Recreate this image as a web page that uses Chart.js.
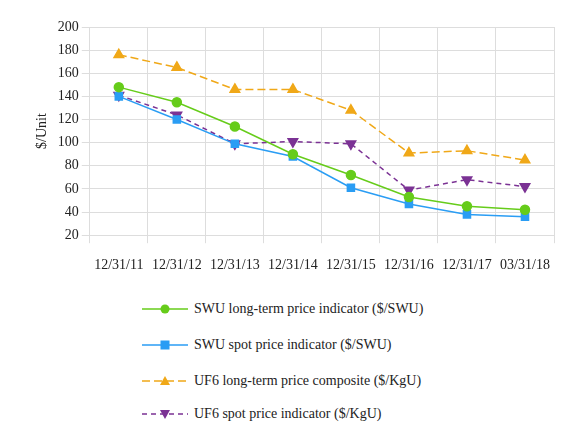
<!DOCTYPE html>
<html><head><meta charset="utf-8">
<script src="https://cdn.jsdelivr.net/npm/chart.js@4"></script>
<style>
body{margin:0;background:#fff;font-family:'Liberation Serif','DejaVu Serif',serif;}
#wrap{position:relative;width:586px;height:288px;}
.leg{position:absolute;left:142px;font-size:14px;color:#222;display:flex;align-items:center;}
.leg svg{margin-right:6px;}
</style></head><body>
<div id="wrap"><canvas id="c" width="586" height="288"></canvas></div>
<div class="leg" style="top:301px"><svg width="46" height="16"><line x1="0" y1="8" x2="46" y2="8" stroke="#66cc1a" stroke-width="1.5"/><circle cx="23" cy="8" r="4.5" fill="#66cc1a"/></svg>SWU long-term price indicator ($/SWU)</div>
<div class="leg" style="top:337px"><svg width="46" height="16"><line x1="0" y1="8" x2="46" y2="8" stroke="#2a9df4" stroke-width="1.5"/><rect x="18.5" y="3.5" width="9" height="9" fill="#2a9df4"/></svg>SWU spot price indicator ($/SWU)</div>
<div class="leg" style="top:373px"><svg width="46" height="16"><line x1="0" y1="8" x2="46" y2="8" stroke="#f0a818" stroke-width="1.5" stroke-dasharray="8,4"/><polygon points="23,3 28,12 18,12" fill="#f0a818"/></svg>UF6 long-term price composite ($/KgU)</div>
<div class="leg" style="top:406px"><svg width="46" height="16"><line x1="0" y1="8" x2="46" y2="8" stroke="#7b3294" stroke-width="1.5" stroke-dasharray="5,4"/><polygon points="18,4 28,4 23,13" fill="#7b3294"/></svg>UF6 spot price indicator ($/KgU)</div>
<script>
const categories=["12/31/11","12/31/12","12/31/13","12/31/14","12/31/15","12/31/16","12/31/17","03/31/18"];
const swuLongTerm=[148,135,114,90,72,53,45,42];
const swuSpot=[140,120,99,88,61,47,38,36];
const uf6LongTerm=[176,165,146,146,128,91,93,85];
const uf6Spot=[141,124,99,101,99,59,68,62];
const yTicks=[20,40,60,80,100,120,140,160,180,200];
Chart.defaults.font.family="'Liberation Serif','DejaVu Serif',serif";
Chart.defaults.color='#222';
new Chart(document.getElementById('c'),{type:'line',
data:{labels:categories,datasets:[
{data:swuLongTerm,borderColor:'#66cc1a',backgroundColor:'#66cc1a',pointStyle:'circle',pointRadius:4.5,borderWidth:1.5},
{data:swuSpot,borderColor:'#2a9df4',backgroundColor:'#2a9df4',pointStyle:'rect',pointRadius:5,borderWidth:1.5},
{data:uf6LongTerm,borderColor:'#f0a818',backgroundColor:'#f0a818',pointStyle:'triangle',pointRadius:5.5,borderWidth:1.5,borderDash:[8,4]},
{data:uf6Spot,borderColor:'#7b3294',backgroundColor:'#7b3294',pointStyle:'triangle',rotation:180,pointRadius:5.5,borderWidth:1.5,borderDash:[5,4]}
]},
options:{responsive:false,animation:false,layout:{padding:{left:30,right:32,top:27,bottom:0}},
plugins:{legend:{display:false},tooltip:{enabled:false}},
scales:{
x:{offset:true,grid:{color:'#ddd',offset:true},border:{color:'#ddd'},ticks:{font:{size:14},maxRotation:0,padding:14}},
y:{min:20,max:200,afterBuildTicks:a=>{a.ticks=yTicks.map(v=>({value:v}));},grid:{color:'#ddd'},border:{color:'#ddd'},ticks:{font:{size:14}},title:{display:true,text:'$/Unit',font:{size:14}}}
}}});
</script></body></html>
